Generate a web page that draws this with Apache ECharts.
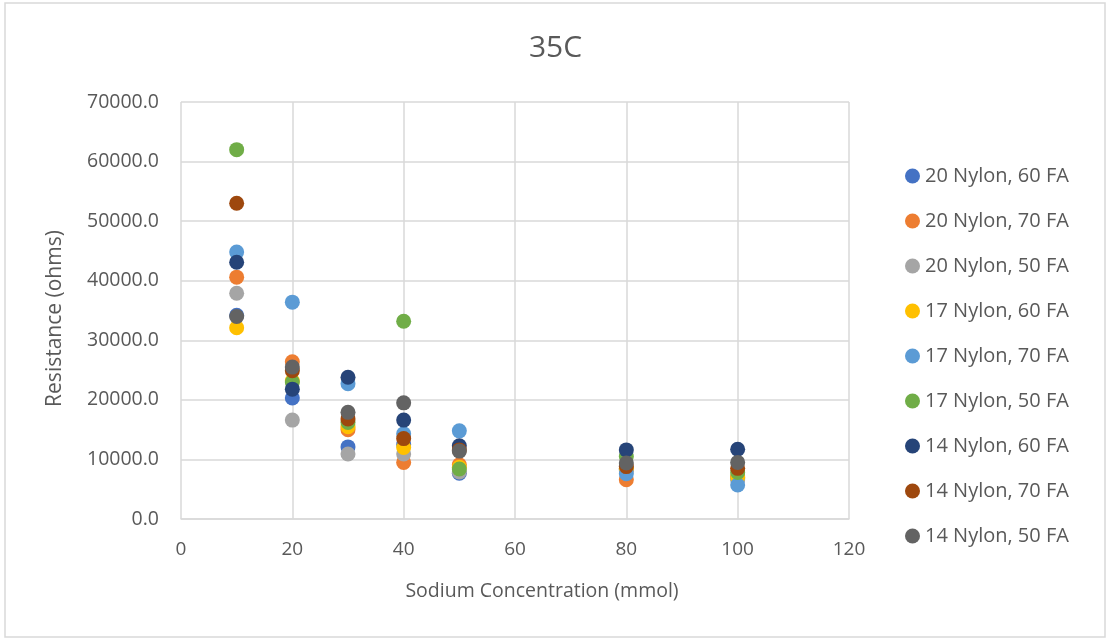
<!DOCTYPE html>
<html>
<head>
<meta charset="utf-8">
<title>35C</title>
<script src="https://cdn.jsdelivr.net/npm/echarts@6/dist/echarts.min.js"></script>
<style>
  html, body { margin: 0; padding: 0; background: #fff; }
  #chart { width: 1111px; height: 644px; }
</style>
</head>
<body>
<div id="chart"></div>
<script>
// Sodium concentration (mmol) for each measurement
const concentrations = [10, 20, 30, 40, 50, 80, 100];

// Resistance (ohms) per sample type, one value per concentration
const seriesNames = [
  '20 Nylon, 60 FA', '20 Nylon, 70 FA', '20 Nylon, 50 FA',
  '17 Nylon, 60 FA', '17 Nylon, 70 FA', '17 Nylon, 50 FA',
  '14 Nylon, 60 FA', '14 Nylon, 70 FA', '14 Nylon, 50 FA'
];
const nylon20fa60 = [34200, 20300, 12100, 12500, 7700, 8300, 6800];
const nylon20fa70 = [40600, 26400, 15000, 9500, 9100, 6600, 7200];
const nylon20fa50 = [37900, 16600, 10900, 10900, 7900, 8100, 6600];
const nylon17fa60 = [32100, 23200, 15500, 12000, 8700, 8500, 7000];
const nylon17fa70 = [44800, 36400, 22700, 14300, 14800, 7600, 5700];
const nylon17fa50 = [62000, 23000, 16200, 33200, 8400, 10500, 7800];
const nylon14fa60 = [43100, 21800, 23800, 16600, 12300, 11600, 11700];
const nylon14fa70 = [53000, 24900, 16800, 13500, 11600, 8800, 8500];
const nylon14fa50 = [34000, 25500, 17900, 19500, 11400, 9400, 9500];

const seriesValues = [
  nylon20fa60, nylon20fa70, nylon20fa50,
  nylon17fa60, nylon17fa70, nylon17fa50,
  nylon14fa60, nylon14fa70, nylon14fa50
];

const palette = ['#4472C4', '#ED7D31', '#A5A5A5', '#FFC000', '#5B9BD5',
                 '#70AD47', '#264478', '#9E480E', '#636363'];

const textColor = '#595959';
const gridColor = '#D9D9D9';
const fontFamily = '"Open Sans", "Noto Sans", sans-serif';

const chart = echarts.init(document.getElementById('chart'), null, { renderer: 'canvas' });

chart.setOption({
  animation: false,
  color: palette,
  textStyle: { fontFamily: fontFamily },
  title: {
    text: '35C',
    left: 'center',
    top: 28,
    textStyle: { fontFamily: fontFamily, fontSize: 30, fontWeight: 'normal', color: textColor }
  },
  graphic: [{
    type: 'rect',
    shape: { x: 5, y: 3, width: 1100, height: 634 },
    style: { fill: 'none', stroke: gridColor, lineWidth: 1.5 },
    silent: true
  }],
  legend: {
    orient: 'vertical',
    left: 900,
    top: 161,
    itemWidth: 15,
    itemHeight: 15,
    itemGap: 25,
    icon: 'circle',
    textStyle: { fontFamily: fontFamily, fontSize: 20, color: textColor },
    data: seriesNames
  },
  grid: { left: 181, right: 262, top: 102, bottom: 125, containLabel: false },
  xAxis: {
    type: 'value',
    min: 0,
    max: 120,
    interval: 20,
    name: 'Sodium Concentration (mmol)',
    nameLocation: 'middle',
    nameGap: 62,
    nameTextStyle: { fontFamily: fontFamily, fontSize: 19.5, color: textColor, padding: [0, 0, 0, 54] },
    axisLine: { show: true, lineStyle: { color: gridColor, width: 1.5 } },
    axisTick: { show: false },
    axisLabel: { color: textColor, fontSize: 19, margin: 21, fontFamily: fontFamily },
    splitLine: { show: true, lineStyle: { color: gridColor, width: 1.5 } }
  },
  yAxis: {
    type: 'value',
    min: 0,
    max: 70000,
    interval: 10000,
    name: 'Resistance (ohms)',
    nameLocation: 'middle',
    nameGap: 115,
    nameTextStyle: { fontFamily: fontFamily, fontSize: 21, color: textColor, padding: [0, 16, 0, 0] },
    axisLine: { show: false },
    axisTick: { show: false },
    axisLabel: {
      color: textColor, fontSize: 19.5, margin: 22, fontFamily: fontFamily,
      formatter: v => v.toFixed(1)
    },
    splitLine: { show: true, lineStyle: { color: gridColor, width: 1.5 } }
  },
  series: seriesNames.map((name, i) => ({
    name: name,
    type: 'scatter',
    symbol: 'circle',
    symbolSize: 15,
    itemStyle: { color: palette[i], opacity: 1 },
    data: concentrations.map((c, j) => [c, seriesValues[i][j]])
  }))
});
</script>
</body>
</html>
